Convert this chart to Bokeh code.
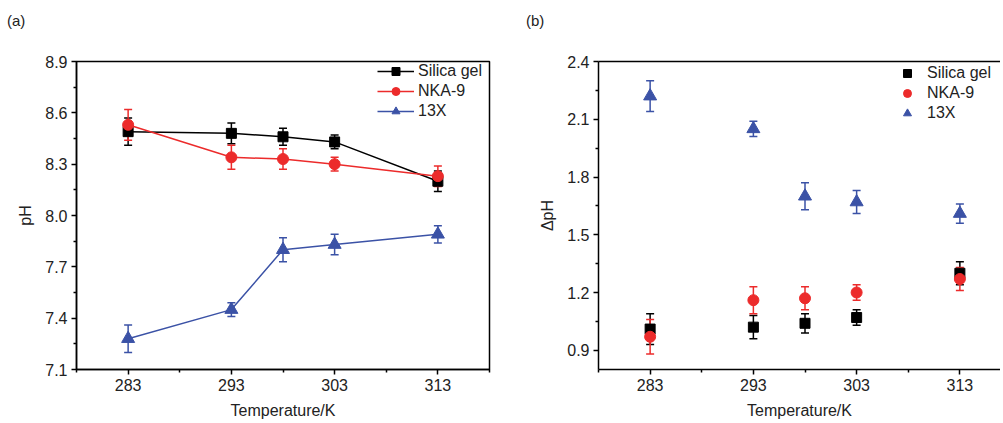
from bokeh.plotting import figure
from bokeh.models import (Whisker, TeeHead, ColumnDataSource, Legend, LegendItem,
                          LinearAxis, FixedTicker, Range1d, PrintfTickFormatter, Div)
from bokeh.layouts import row, column
from bokeh.embed import file_html
from bokeh.resources import INLINE

# ---------------- data ----------------
temps = [283, 293, 298, 303, 313]
series_names = ["Silica gel", "NKA-9", "13X"]

ph_silica = [8.49, 8.48, 8.46, 8.43, 8.20]
ph_silica_err = [0.08, 0.06, 0.05, 0.04, 0.06]
ph_nka = [8.53, 8.34, 8.33, 8.30, 8.23]
ph_nka_err = [0.09, 0.07, 0.06, 0.04, 0.06]
ph_13x = [7.28, 7.45, 7.80, 7.83, 7.89]
ph_13x_err = [0.08, 0.04, 0.07, 0.06, 0.05]

dph_silica = [1.01, 1.02, 1.04, 1.07, 1.30]
dph_silica_err = [0.08, 0.06, 0.05, 0.04, 0.06]
dph_nka = [0.97, 1.16, 1.17, 1.20, 1.27]
dph_nka_err = [0.09, 0.07, 0.06, 0.04, 0.06]
dph_13x = [2.22, 2.05, 1.70, 1.67, 1.61]
dph_13x_err = [0.08, 0.04, 0.07, 0.06, 0.05]

x_ticks = [283, 293, 303, 313]
x_minor = [278, 288, 298, 308, 318]
ph_ticks = [7.1, 7.4, 7.7, 8.0, 8.3, 8.6, 8.9]
dph_ticks = [0.9, 1.2, 1.5, 1.8, 2.1, 2.4]
panel_tags = ["(a)", "(b)"]

# ---------------- style ----------------
FONT = "Liberation Sans"
BLACK = "#000000"
RED = "#EC2B2B"
BLUE = "#3B52A6"
colors = [BLACK, RED, BLUE]
markers = ["square", "circle", "triangle"]
msizes = [10, 11, 13]
FRAME_H = 308
PX_PER_K = 10.325
HEAD_H = 36


def minor_between(ticks):
    step = ticks[1] - ticks[0]
    out = [ticks[0] - step / 2]
    for a, b in zip(ticks[:-1], ticks[1:]):
        out.append((a + b) / 2)
    out.append(ticks[-1] + step / 2)
    return out


def style_axes(p):
    for ax in (p.xaxis[0], p.yaxis[0]):
        ax.axis_line_width = 1.5
        ax.axis_line_color = "black"
        ax.major_tick_line_width = 1.5
        ax.minor_tick_line_width = 1.5
        ax.major_tick_out = 5
        ax.major_tick_in = 0
        ax.minor_tick_out = 3
        ax.minor_tick_in = 0
        ax.major_label_text_font = FONT
        ax.major_label_text_font_size = "16px"
        ax.major_label_text_color = "#222222"
        ax.major_label_standoff = 4
        ax.axis_label_text_font = FONT
        ax.axis_label_text_font_size = "16px"
        ax.axis_label_text_font_style = "normal"
        ax.axis_label_text_color = "#222222"
        ax.axis_label_standoff = 8
    p.yaxis[0].formatter = PrintfTickFormatter(format="%.1f")
    p.xgrid.visible = False
    p.ygrid.visible = False


def tag_div(text, width, left_px):
    html = ('<div style="padding:12px 0 0 %dpx; font-family:\'Liberation Sans\'; '
            'font-size:15px; line-height:17px; color:#222222;">%s</div>' % (left_px, text))
    return Div(text=html, width=width, height=HEAD_H, margin=0)


def add_errors(p, y, err, color):
    src = ColumnDataSource(dict(x=temps,
                                upper=[a + e for a, e in zip(y, err)],
                                lower=[a - e for a, e in zip(y, err)]))
    w = Whisker(base="x", upper="upper", lower="lower", source=src,
                line_color=color, line_width=1.5, level="underlay",
                upper_head=TeeHead(size=8, line_color=color, line_width=1.5),
                lower_head=TeeHead(size=8, line_color=color, line_width=1.5))
    p.add_layout(w)


# ---------------- panel (a) ----------------
p1 = figure(frame_width=413, frame_height=FRAME_H, min_border_left=76, min_border_right=20,
            min_border_top=61 - HEAD_H, min_border_bottom=45,
            x_range=Range1d(278, 318), y_range=Range1d(7.1, 8.9),
            output_backend="svg", toolbar_location=None)
p1.xaxis.axis_label = "Temperature/K"
p1.yaxis.axis_label = "pH"
p1.xaxis.ticker = FixedTicker(ticks=x_ticks, minor_ticks=x_minor)
p1.yaxis.ticker = FixedTicker(ticks=ph_ticks, minor_ticks=minor_between(ph_ticks))
style_axes(p1)
p1.outline_line_color = "black"
p1.outline_line_width = 1.5
p1.outline_line_alpha = 1.0

items1 = []
for name, y, err, c, m, s in zip(series_names, [ph_silica, ph_nka, ph_13x],
                                  [ph_silica_err, ph_nka_err, ph_13x_err],
                                  colors, markers, msizes):
    add_errors(p1, y, err, c)
    ln = p1.line(temps, y, line_color=c, line_width=1.5)
    sc = p1.scatter(temps, y, marker=m, size=s, fill_color=c, line_color=c)
    items1.append(LegendItem(label=name, renderers=[ln, sc]))

leg1 = Legend(items=items1, location=(301, 248), glyph_width=37, glyph_height=20,
              label_height=20, spacing=0, padding=0, margin=0, label_standoff=4,
              border_line_color=None, background_fill_alpha=0,
              label_text_font=FONT, label_text_font_size="16px",
              label_text_color="#222222")
p1.add_layout(leg1)

# ---------------- panel (b) ----------------
p2 = figure(frame_width=402, frame_height=FRAME_H, min_border_left=89, min_border_right=0,
            min_border_top=61 - HEAD_H, min_border_bottom=45,
            x_range=Range1d(278, 278 + 402 / PX_PER_K), y_range=Range1d(0.8, 2.4),
            output_backend="svg", toolbar_location=None)
p2.xaxis.axis_label = "Temperature/K"
p2.yaxis.axis_label = "ΔpH"
p2.xaxis.ticker = FixedTicker(ticks=x_ticks, minor_ticks=x_minor)
p2.yaxis.ticker = FixedTicker(ticks=dph_ticks, minor_ticks=minor_between(dph_ticks))
style_axes(p2)
p2.outline_line_color = None

top_axis = LinearAxis(ticker=FixedTicker(ticks=[]), major_label_text_font_size="0px",
                      major_tick_line_color=None, minor_tick_line_color=None,
                      axis_line_width=1.5, axis_line_color="black",
                      major_label_standoff=0)
p2.add_layout(top_axis, "above")

items2 = []
for name, y, err, c, m, s in zip(series_names, [dph_silica, dph_nka, dph_13x],
                                  [dph_silica_err, dph_nka_err, dph_13x_err],
                                  colors, markers, msizes):
    add_errors(p2, y, err, c)
    sc = p2.scatter(temps, y, marker=m, size=s, fill_color=c, line_color=c)
    items2.append(LegendItem(label=name, renderers=[sc]))

leg2 = Legend(items=items2, location=(299, 246), glyph_width=20, glyph_height=20,
              label_height=20, spacing=0, padding=0, margin=0, label_standoff=10,
              border_line_color=None, background_fill_alpha=0,
              label_text_font=FONT, label_text_font_size="16px",
              label_text_color="#222222")
p2.add_layout(leg2)

head = row(tag_div(panel_tags[0], 509, 7), tag_div(panel_tags[1], 491, 17))
layout = column(head, row(p1, p2))
open("out.html", "w").write(file_html(layout, INLINE))
